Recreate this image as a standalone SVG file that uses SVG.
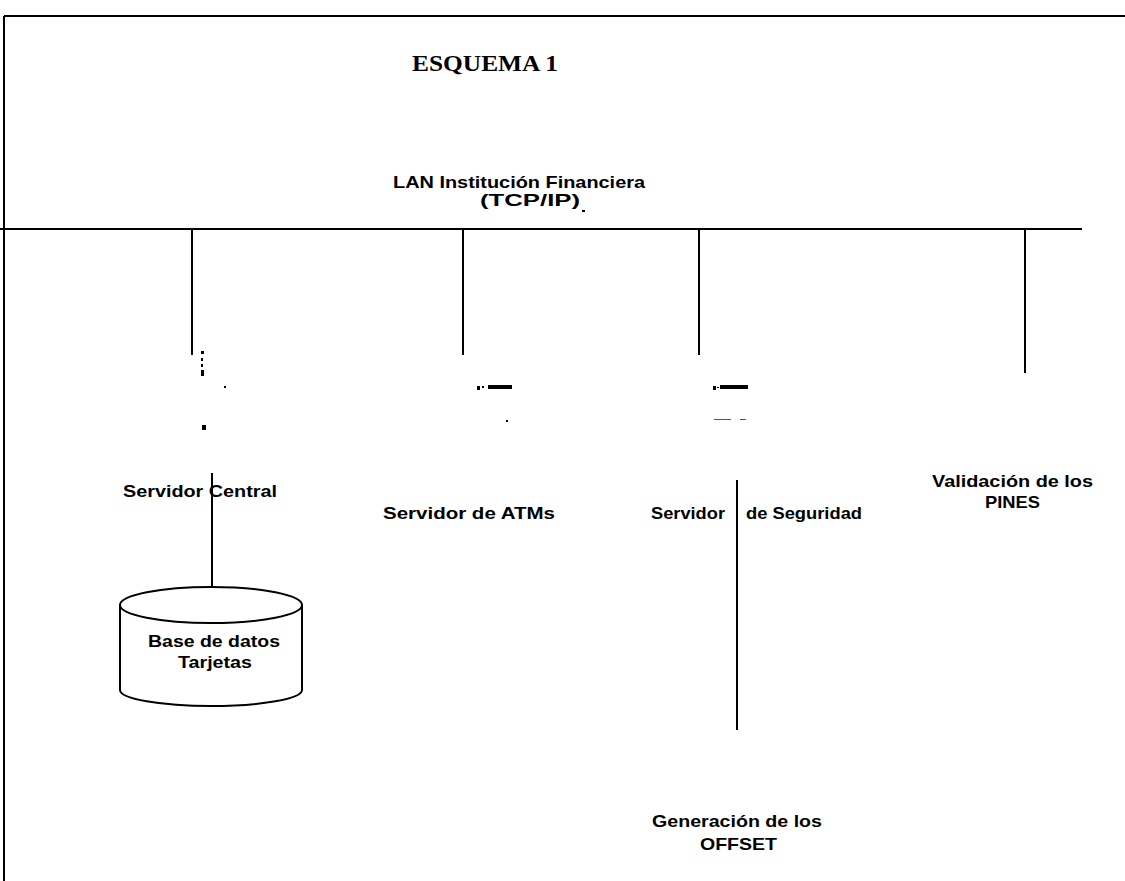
<svg xmlns="http://www.w3.org/2000/svg" width="1125" height="881" viewBox="0 0 1125 881">
  <style>
    .ln { stroke: #000; stroke-width: 2; fill: none; }
    .lbl { font-family: "Liberation Sans", Arial, sans-serif; font-weight: bold; font-size: 17px; fill: #000; }
    .ttl { font-family: "Liberation Serif", "Times New Roman", serif; font-weight: bold; font-size: 23px; fill: #000; }
    .spk { fill: #000; }
  </style>
  <rect width="1125" height="881" fill="#fff"/>

  <!-- page frame -->
  <g id="frame">
    <line class="ln" x1="4" y1="16" x2="1125" y2="16"/>
    <line class="ln" x1="4" y1="16" x2="4" y2="881"/>
  </g>

  <g id="title">
    <text class="ttl" x="412" y="71" textLength="146" lengthAdjust="spacingAndGlyphs">ESQUEMA 1</text>
  </g>

  <!-- network bus -->
  <g id="lan">
    <text class="lbl" x="393" y="188" textLength="252" lengthAdjust="spacingAndGlyphs">LAN Institución Financiera</text>
    <text class="lbl" x="480" y="206" textLength="100" lengthAdjust="spacingAndGlyphs">(TCP/IP)</text>
    <rect class="spk" x="582" y="210" width="3" height="2"/>
  </g>

  <g id="connectors">
    <line class="ln" x1="0" y1="229" x2="1082" y2="229"/>
    <line class="ln" x1="192" y1="229" x2="192" y2="355"/>
    <line class="ln" x1="463" y1="229" x2="463" y2="355"/>
    <line class="ln" x1="699" y1="229" x2="699" y2="355"/>
    <line class="ln" x1="1025" y1="229" x2="1025" y2="373"/>
    <line class="ln" x1="212" y1="473" x2="212" y2="587"/>
    <line class="ln" x1="737" y1="480" x2="737" y2="730"/>
  </g>

  <g id="servidor-central">
    <rect class="spk" x="201" y="351" width="3" height="3"/>
    <rect class="spk" x="201" y="358" width="2" height="3"/>
    <rect class="spk" x="201" y="364" width="2" height="3"/>
    <rect class="spk" x="201" y="370" width="3" height="6"/>
    <rect class="spk" x="224" y="386" width="2" height="2"/>
    <rect class="spk" x="202" y="425" width="4" height="5"/>
    <text class="lbl" x="123" y="497" textLength="154" lengthAdjust="spacingAndGlyphs">Servidor Central</text>
  </g>

  <g id="base-datos">
    <path class="ln" d="M120,605 A91,18 0 0 1 302,605 A91,18 0 0 1 120,605 Z"/>
    <path class="ln" d="M120,605 L120,690 A91,16 0 0 0 302,690 L302,605"/>
    <text class="lbl" x="148" y="647" textLength="132" lengthAdjust="spacingAndGlyphs">Base de datos</text>
    <text class="lbl" x="178" y="668" textLength="74" lengthAdjust="spacingAndGlyphs">Tarjetas</text>
  </g>

  <g id="servidor-atms">
    <rect class="spk" x="477" y="386" width="3" height="4"/>
    <rect class="spk" x="482" y="386" width="2" height="2"/>
    <rect class="spk" x="488" y="385" width="24" height="4"/>
    <rect class="spk" x="506" y="420" width="2" height="2"/>
    <text class="lbl" x="383" y="519" textLength="172" lengthAdjust="spacingAndGlyphs">Servidor de ATMs</text>
  </g>

  <g id="servidor-seguridad">
    <rect class="spk" x="713" y="386" width="3" height="4"/>
    <rect class="spk" x="717" y="387" width="2" height="1"/>
    <rect class="spk" x="720" y="385" width="28" height="4"/>
    <rect x="714" y="419" width="17" height="1" fill="#555"/>
    <rect x="740" y="419" width="6" height="1" fill="#555"/>
    <text class="lbl" x="651" y="519" textLength="74" lengthAdjust="spacingAndGlyphs">Servidor</text>
    <text class="lbl" x="746" y="519" textLength="116" lengthAdjust="spacingAndGlyphs">de Seguridad</text>
  </g>

  <g id="validacion-pines">
    <text class="lbl" x="932" y="487" textLength="161" lengthAdjust="spacingAndGlyphs">Validación de los</text>
    <text class="lbl" x="985" y="508" textLength="55" lengthAdjust="spacingAndGlyphs">PINES</text>
  </g>

  <g id="generacion-offset">
    <text class="lbl" x="652" y="827" textLength="170" lengthAdjust="spacingAndGlyphs">Generación de los</text>
    <text class="lbl" x="700" y="850" textLength="77" lengthAdjust="spacingAndGlyphs">OFFSET</text>
  </g>
</svg>
